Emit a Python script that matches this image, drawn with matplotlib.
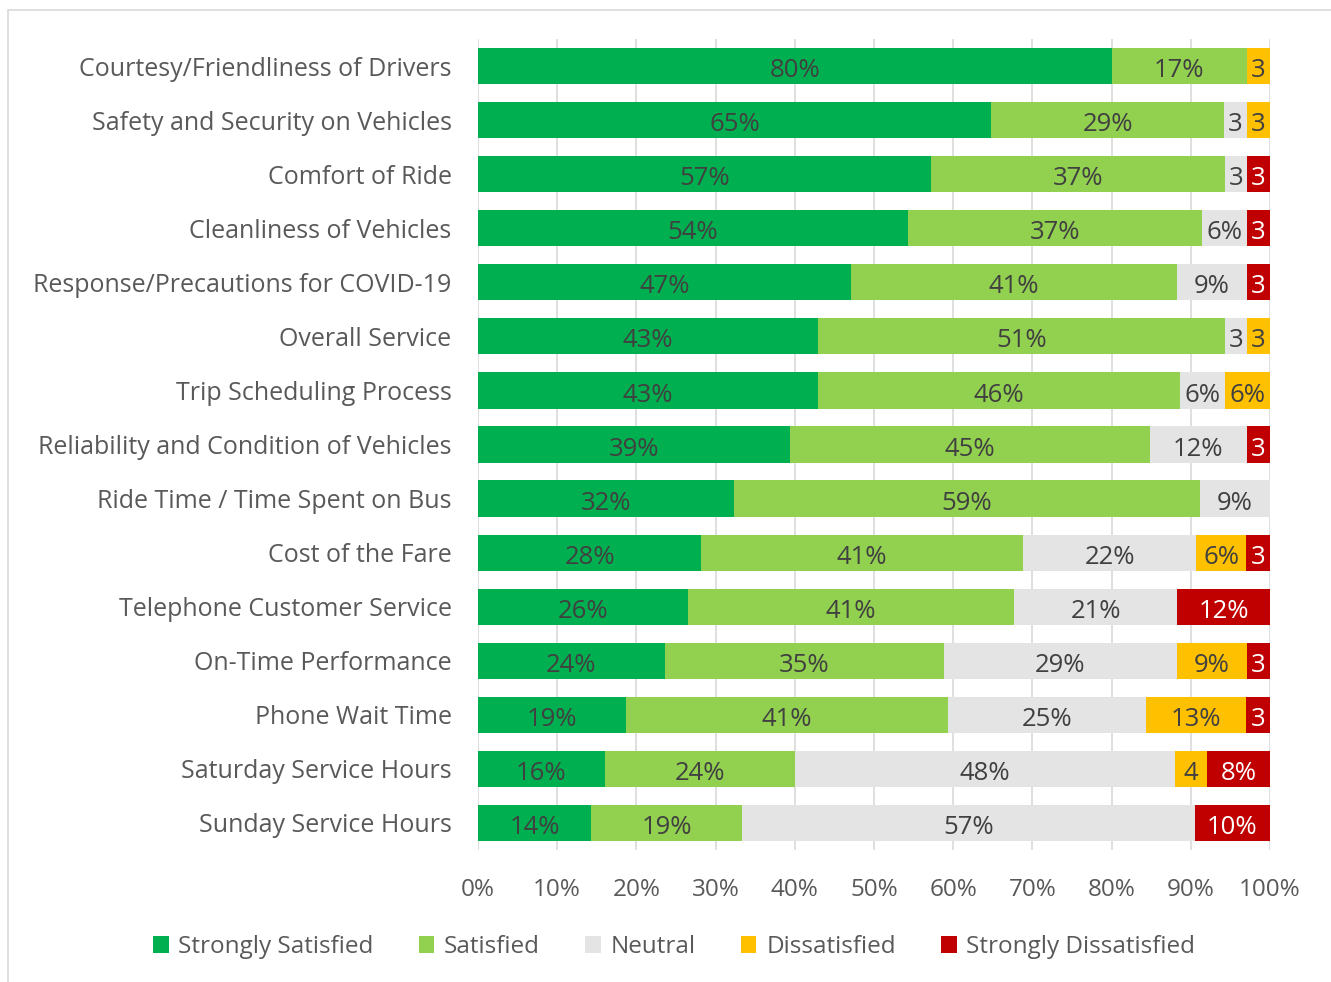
import numpy as np
import matplotlib.pyplot as plt
from matplotlib.patches import Rectangle

plt.rcParams['font.family'] = ['Open Sans', 'DejaVu Sans']

categories = [
    'Courtesy/Friendliness of Drivers',
    'Safety and Security on Vehicles',
    'Comfort of Ride',
    'Cleanliness of Vehicles',
    'Response/Precautions for COVID-19',
    'Overall Service',
    'Trip Scheduling Process',
    'Reliability and Condition of Vehicles',
    'Ride Time / Time Spent on Bus',
    'Cost of the Fare',
    'Telephone Customer Service',
    'On-Time Performance',
    'Phone Wait Time',
    'Saturday Service Hours',
    'Sunday Service Hours',
]

strongly_satisfied = [80.0, 64.8, 57.2, 54.3, 47.1, 42.9, 42.9, 39.4, 32.3, 28.2, 26.5, 23.6, 18.7, 16.0, 14.3]
satisfied = [17.1, 29.4, 37.1, 37.1, 41.2, 51.4, 45.7, 45.4, 58.9, 40.6, 41.2, 35.2, 40.6, 24.0, 19.0]
neutral = [0.0, 2.9, 2.8, 5.7, 8.8, 2.8, 5.7, 12.3, 8.8, 21.9, 20.6, 29.4, 25.0, 48.0, 57.2]
dissatisfied = [2.9, 2.9, 0.0, 0.0, 0.0, 2.9, 5.7, 0.0, 0.0, 6.3, 0.0, 8.9, 12.7, 4.0, 0.0]
strongly_dissatisfied = [0.0, 0.0, 2.9, 2.9, 2.9, 0.0, 0.0, 2.9, 0.0, 3.0, 11.7, 2.9, 3.0, 8.0, 9.5]

series = [
    ('Strongly Satisfied', strongly_satisfied, '#00B050', '#404040'),
    ('Satisfied', satisfied, '#92D050', '#404040'),
    ('Neutral', neutral, '#E4E4E4', '#404040'),
    ('Dissatisfied', dissatisfied, '#FFC000', '#404040'),
    ('Strongly Dissatisfied', strongly_dissatisfied, '#C00000', 'white'),
]

FS = 17.5
W, H = 1331, 982
fig = plt.figure(figsize=(W / 100, H / 100), dpi=100)
ax = fig.add_axes([478 / W, 1 - 850 / H, 792 / W, 811 / H])

# outer chart frame
fig.patches.append(Rectangle((8 / W, -0.1), 1.2, 1 - 10 / H + 0.1, transform=fig.transFigure,
                             fill=False, edgecolor='#D9D9D9', linewidth=1.2))

y = np.arange(len(categories))
left = np.zeros(len(categories))
for name, vals, color, tcolor in series:
    vals = np.array(vals)
    bars = ax.barh(y, vals, left=left, height=0.67, color=color, label=name, zorder=3)
    for b, v in zip(bars, vals):
        if v <= 0:
            continue
        txt = f'{v:.0f}' if v < 5 else f'{v:.0f}%'
        ax.text(b.get_x() + b.get_width() / 2, b.get_y() + b.get_height() / 2 + 0.03, txt,
                ha='center', va='center_baseline', fontsize=18.5, color=tcolor, zorder=4)
    left += vals

ax.set_xlim(0, 100)
ax.set_ylim(len(categories) - 0.5, -0.5)
ax.set_yticks(y)
ax.set_yticklabels(categories)
ax.set_xticks(np.arange(0, 101, 10))
ax.set_xticklabels([f'{t}%' for t in range(0, 101, 10)])
ax.tick_params(axis='y', length=0, pad=19, labelsize=18, labelcolor='#595959')
ax.tick_params(axis='x', length=0, pad=20, labelsize=FS, labelcolor='#595959')
ax.grid(axis='x', color='#D9D9D9', linewidth=1.2, zorder=0)
for s in ax.spines.values():
    s.set_visible(False)

fig.legend(loc='center', bbox_to_anchor=(674 / W, 1 - 947 / H), ncol=5, frameon=False,
           fontsize=FS, labelcolor='#595959', handlelength=0.65, handleheight=0.65,
           handletextpad=0.4, columnspacing=1.85)

fig.savefig('out.png', dpi=100)
